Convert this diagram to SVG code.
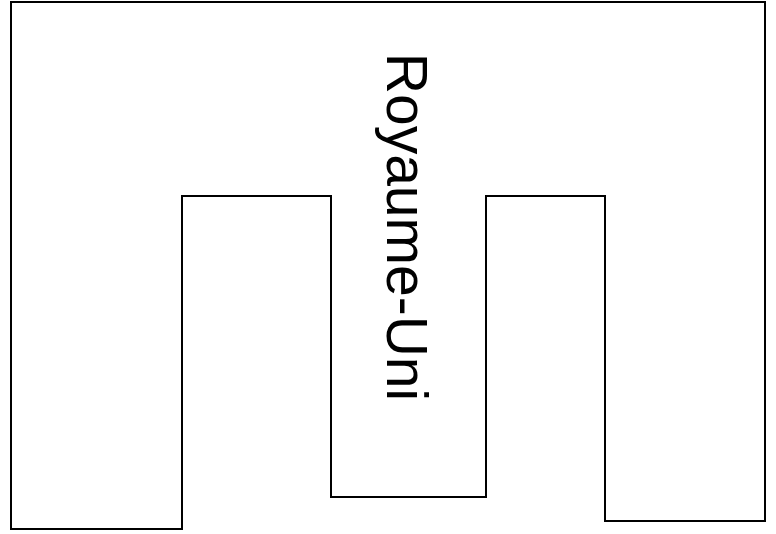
<svg xmlns="http://www.w3.org/2000/svg" width="776" height="534" viewBox="0 0 776 534">
<style>
.outline{fill:#ffffff;stroke:#000000;stroke-width:2}
.label{font-family:"Liberation Sans",Arial,sans-serif;font-size:57px;fill:#000000}
</style>
<rect width="776" height="534" fill="#ffffff"/>
<g id="royaume-uni">
<polygon class="outline" points="11,2 765,2 765,521 605,521 605,196 486,196 486,497 331,497 331,196 182,196 182,529 11,529"/>
<text class="label" text-anchor="middle" transform="translate(387,227) rotate(90)">Royaume-Uni</text>
</g>
</svg>
